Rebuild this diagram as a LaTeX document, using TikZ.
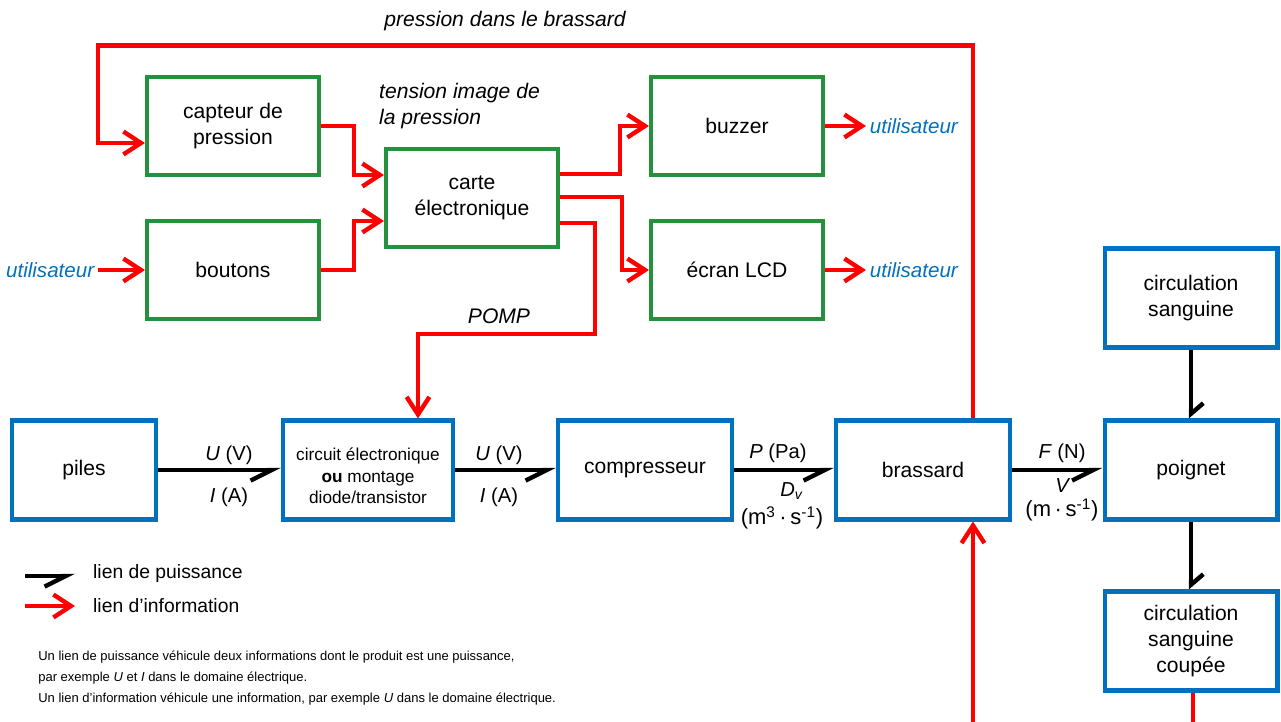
\documentclass[tikz,border=0pt]{standalone}
\usepackage{fontspec}
\setmainfont{Liberation Sans}
\usetikzlibrary{arrows.meta,calc}

\definecolor{vertbloc}{RGB}{38,145,60}
\definecolor{bleubloc}{RGB}{0,112,192}

\begin{document}
\begin{tikzpicture}[x=0.02cm, y=-0.02cm,
    every node/.style={font=\fontsize{12}{14.7}\selectfont},
    commande/.style={draw=vertbloc, line width=2.3pt, minimum width=3.44cm, minimum height=1.96cm, align=center},
    chaine/.style={draw=bleubloc, line width=2.3pt, minimum height=1.98cm, align=center},
    info/.style={red, line width=2.5pt, -{Straight Barb[length=10pt, width=13pt]}},
    puissance/.style={line width=2.5pt, -{Straight Barb[harpoon, swap, length=12pt, width=12pt]}},
    puissancev/.style={line width=2.5pt, -{Straight Barb[harpoon, length=6pt, width=14pt]}},
    usager/.style={text=bleubloc, font=\fontsize{11.7}{14}\selectfont\itshape, inner sep=2pt},
    grandeur/.style={font=\fontsize{11.5}{14}\selectfont, inner sep=1pt}]

\useasboundingbox (0,0) rectangle (1281,722);

% Nodes
    \node[commande] (capteur) at (233, 126) {capteur de\\pression};
    \node[commande] (boutons) at (233, 270) {boutons};
    \node[commande] (carte) at (472, 198) {carte\\électronique};
    \node[commande] (buzzer) at (737, 126) {buzzer};
    \node[commande] (ecran) at (737, 270) {écran LCD};
    \node[chaine, minimum width=2.88cm] (piles) at (84, 470) {piles};
    \node[chaine, minimum width=3.4cm, font=\fontsize{9.8}{12.2}\selectfont] (circuit) at (368, 470) {\rule{0pt}{14pt}circuit électronique\\\textbf{ou} montage\\diode/transistor};
    \node[chaine, minimum width=3.48cm] (compresseur) at (645, 470) {compresseur};
    \node[chaine, minimum width=3.48cm] (brassard) at (923, 470) {brassard};
    \node[chaine, minimum width=3.46cm] (poignet) at (1191, 470) {poignet};
    \node[chaine, minimum width=3.46cm] (circulation) at (1191, 298) {circulation\\sanguine};
    \node[chaine, minimum width=3.46cm] (coupee) at (1191, 641) {circulation\\sanguine\\coupée};

% Users
    \node[usager, anchor=east] (usager1) at (98, 270) {utilisateur};
    \node[usager, anchor=west] (usager2) at (866, 126) {utilisateur};
    \node[usager, anchor=west] (usager3) at (866, 270) {utilisateur};
    \coordinate (bas1) at (973, 722);
    \coordinate (bas2) at (1193, 722);

% Information links
    \draw[info] (usager1) -- (boutons);
    \draw[info] (capteur.east) -- ++(33, 0) |- ($(carte.west)+(0, -23)$);
    \draw[info] (boutons.east) -- ++(33, 0) |- ($(carte.west)+(0, 23)$);
    \draw[info] ($(carte.east)+(0, -24)$) -- ++(60, 0) |- (buzzer.west);
    \draw[info] ($(carte.east)+(0, -1)$) -- ++(62, 0) |- (ecran.west);
    \draw[info] ($(carte.east)+(0, 25)$) -- ++(35, 0) -- ++(0, 111) -| ($(circuit.north)+(50, 0)$);
    \draw[info] (buzzer) -- (usager2);
    \draw[info] (ecran) -- (usager3);
    \draw[info] ($(brassard.north)+(50, 0)$) -- ++(0, -373) -- ++(-875, 0) |- ($(capteur.west)+(0, 17)$);
    \draw[info] (bas1) -- ($(brassard.south)+(50, 0)$);
    \draw[red, line width=2.5pt] ($(coupee.south)+(2, 0)$) -- (bas2);

% Power links
    \draw[puissance] (piles) -- (circuit);
    \draw[puissance] (circuit) -- (compresseur);
    \draw[puissance] (compresseur) -- (brassard);
    \draw[puissance] (brassard) -- (poignet);
    \draw[puissancev] (circulation) -- (poignet);
    \draw[puissancev] (poignet) -- (coupee);

% Links Levels
    \node[font=\fontsize{12}{14}\selectfont\itshape] (titre) at (505, 21) {pression dans le brassard};
    \node[font=\fontsize{12}{14.7}\selectfont\itshape, align=left, anchor=west] (tension) at (373, 106) {tension image de\\la pression};
    \node[font=\fontsize{12}{14}\selectfont\itshape] (pomp) at (499, 316) {POMP};
    \node[grandeur] (U1) at (229, 455) {\textit{U} (V)};
    \node[grandeur] (I1) at (229, 497) {\textit{I} (A)};
    \node[grandeur] (U2) at (499, 455) {\textit{U} (V)};
    \node[grandeur] (I2) at (499, 497) {\textit{I} (A)};
    \node[grandeur] (P) at (778, 453) {\textit{P} (Pa)};
    \node[grandeur] (Dv) at (792, 491) {\textit{D}\textsubscript{\textit{v}}};
    \node[grandeur, font=\fontsize{12.5}{14}\selectfont] (Dvu) at (782, 518) {(m\textsuperscript{3}\,·\,s\textsuperscript{-1})};
    \node[grandeur] (F) at (1062, 453) {\textit{F} (N)};
    \node[grandeur] (V) at (1063, 486) {\textit{V}};
    \node[grandeur, font=\fontsize{12.5}{14}\selectfont] (Vu) at (1062, 510) {(m\,·\,s\textsuperscript{-1})};

% Legend
    \coordinate (leg1a) at (25, 576);
    \coordinate (leg1b) at (75, 576);
    \coordinate (leg2a) at (25, 606);
    \coordinate (leg2b) at (75, 606);
    \draw[puissance] (leg1a) -- (leg1b);
    \draw[info] (leg2a) -- (leg2b);
    \node[anchor=west, font=\fontsize{11}{13}\selectfont] (leg1) at (87, 574) {lien de puissance};
    \node[anchor=west, font=\fontsize{11}{13}\selectfont] (leg2) at (87, 606) {lien d’information};
    \node[anchor=north west, align=left, inner sep=0pt, font=\fontsize{7.4}{11.9}\selectfont] (note) at (38, 651) {Un lien de puissance véhicule deux informations dont le produit est une puissance,\\par exemple \textit{U} et \textit{I} dans le domaine électrique.\\Un lien d’information véhicule une information, par exemple \textit{U} dans le domaine électrique.};

\end{tikzpicture}
\end{document}
